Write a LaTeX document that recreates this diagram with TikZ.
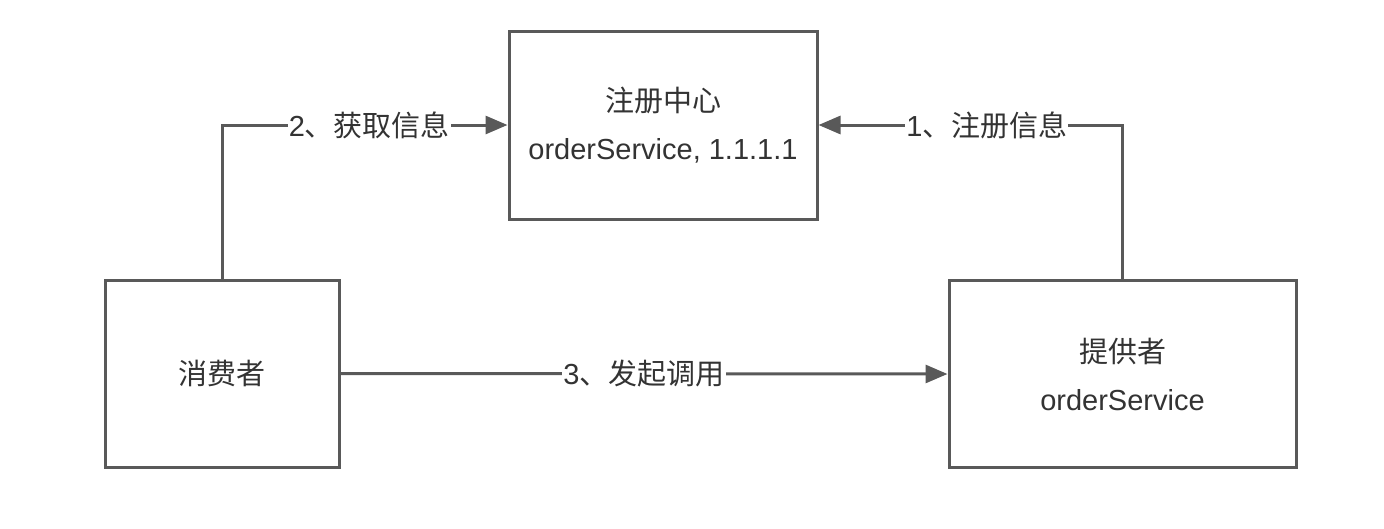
\documentclass[tikz,border=0pt]{standalone}
\usepackage{fontspec}
\setmainfont{Liberation Sans}
\newfontfamily\cjk{Noto Sans CJK SC}
\usetikzlibrary{arrows.meta}
\definecolor{linegray}{HTML}{595959}
\definecolor{txtgray}{HTML}{333333}
\begin{document}
\begin{tikzpicture}[x=1pt,y=-1pt,
  box/.style={draw=linegray,line width=3pt,fill=white,inner sep=0pt,align=center,
    text=txtgray,font=\fontsize{29}{48}\selectfont},
  conn/.style={draw=linegray,line width=3pt,-{Triangle[length=22pt,width=18pt]}},
  lbl/.style={fill=white,text=txtgray,inner sep=1pt,font=\fontsize{29}{34}\selectfont}]
\useasboundingbox (0,0) rectangle (1384,528);
\node[box,minimum width=308pt,minimum height=188pt] (registry) at (663,125)
  {{\cjk 注册中心}\\orderService, 1.1.1.1};
\node[box,minimum width=234pt,minimum height=187pt] (consumer) at (222,373.5)
  {\cjk 消费者};
\node[box,minimum width=347pt,minimum height=187pt] (provider) at (1122.5,374)
  {{\cjk 提供者}\\orderService};
\draw[conn] (consumer.north) |- node[lbl,pos=0.758] {2{\cjk 、获取信息}} (registry.west);
\draw[conn] (provider.north) |- node[lbl,pos=0.723] {1{\cjk 、注册信息}} (registry.east);
\draw[conn] (consumer.east) -- node[lbl,pos=0.5] {3{\cjk 、发起调用}} (provider.west);
\end{tikzpicture}
\end{document}
